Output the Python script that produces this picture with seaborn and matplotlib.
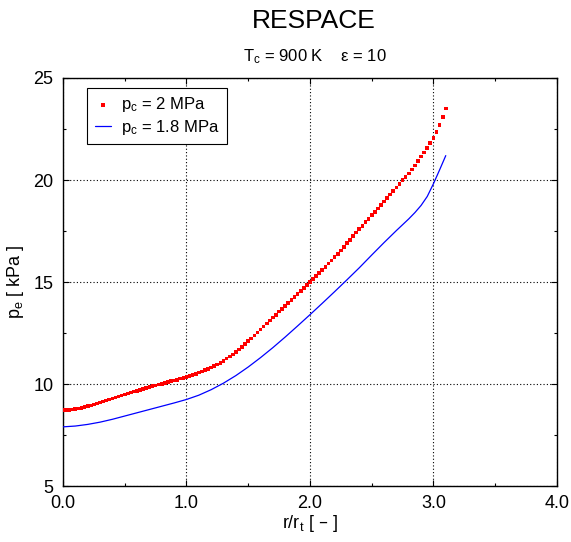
import matplotlib
matplotlib.use("Agg")
import matplotlib.pyplot as plt
import seaborn as sns
import numpy as np
import pandas as pd
from matplotlib.ticker import MultipleLocator, FormatStrFormatter

# ---- data ----
red_x = [0.000, 0.025, 0.050, 0.075, 0.100, 0.125, 0.150, 0.175, 0.200, 0.225,
         0.250, 0.275, 0.300, 0.325, 0.350, 0.375, 0.400, 0.425, 0.450, 0.475,
         0.500, 0.525, 0.550, 0.575, 0.600, 0.625, 0.650, 0.675, 0.700, 0.725,
         0.750, 0.775, 0.800, 0.825, 0.850, 0.875, 0.900, 0.925, 0.950, 0.975,
         1.000, 1.025, 1.050, 1.075, 1.100, 1.125, 1.150, 1.175, 1.200, 1.225,
         1.250, 1.275, 1.300, 1.325, 1.350, 1.375, 1.400, 1.425, 1.450, 1.475,
         1.500, 1.525, 1.550, 1.575, 1.600, 1.625, 1.650, 1.675, 1.700, 1.725,
         1.750, 1.775, 1.800, 1.825, 1.850, 1.875, 1.900, 1.925, 1.950, 1.975,
         2.000, 2.025, 2.050, 2.075, 2.100, 2.125, 2.150, 2.175, 2.200, 2.225,
         2.250, 2.275, 2.300, 2.325, 2.350, 2.375, 2.400, 2.425, 2.450, 2.475,
         2.500, 2.525, 2.550, 2.575, 2.600, 2.625, 2.650, 2.675, 2.700, 2.725,
         2.750, 2.775, 2.800, 2.825, 2.850, 2.875, 2.900, 2.925, 2.950, 2.975,
         3.000, 3.025, 3.050, 3.075, 3.100]
red_y = [8.74, 8.74, 8.75, 8.77, 8.79, 8.82, 8.85, 8.89, 8.93, 8.97,
         9.02, 9.06, 9.11, 9.16, 9.21, 9.26, 9.31, 9.36, 9.41, 9.46,
         9.51, 9.56, 9.60, 9.65, 9.69, 9.73, 9.78, 9.82, 9.86, 9.91,
         9.95, 9.99, 10.03, 10.07, 10.11, 10.15, 10.19, 10.23, 10.28, 10.32,
         10.37, 10.42, 10.47, 10.52, 10.58, 10.63, 10.69, 10.75, 10.82, 10.89,
         10.97, 11.06, 11.16, 11.26, 11.36, 11.47, 11.59, 11.71, 11.84, 11.97,
         12.11, 12.25, 12.39, 12.54, 12.69, 12.83, 12.98, 13.12, 13.27, 13.41,
         13.56, 13.70, 13.85, 13.99, 14.14, 14.28, 14.42, 14.57, 14.71, 14.86,
         15.00, 15.15, 15.30, 15.46, 15.61, 15.76, 15.91, 16.07, 16.22, 16.39,
         16.56, 16.74, 16.91, 17.08, 17.25, 17.43, 17.60, 17.77, 17.94, 18.11,
         18.28, 18.44, 18.61, 18.78, 18.95, 19.12, 19.30, 19.47, 19.64, 19.81,
         19.99, 20.16, 20.33, 20.52, 20.72, 20.93, 21.15, 21.36, 21.58, 21.81,
         22.05, 22.35, 22.70, 23.08, 23.50]

blue_x = [0.0, 0.1, 0.2, 0.3, 0.4, 0.5, 0.6, 0.7, 0.8, 0.9,
          1.0, 1.1, 1.2, 1.3, 1.4, 1.5, 1.6, 1.7, 1.8, 1.9,
          2.0, 2.1, 2.2, 2.3, 2.4, 2.5, 2.6, 2.7, 2.8, 2.85,
          2.9, 2.95, 3.0, 3.05, 3.1]
blue_y = [7.92, 7.96, 8.04, 8.15, 8.29, 8.45, 8.61, 8.77, 8.93, 9.09,
          9.26, 9.47, 9.74, 10.06, 10.43, 10.85, 11.31, 11.80, 12.32, 12.86,
          13.41, 13.97, 14.54, 15.12, 15.71, 16.33, 16.94, 17.53, 18.10, 18.41,
          18.76, 19.20, 19.82, 20.50, 21.20]

x_ticks = [0.0, 1.0, 2.0, 3.0, 4.0]
y_ticks = [5, 10, 15, 20, 25]

title = "RESPACE"
subtitle = r"T$_\mathregular{c}$ = 900 K    ε = 10"
label_red = r"p$_\mathregular{c}$ = 2 MPa"
label_blue = r"p$_\mathregular{c}$ = 1.8 MPa"

red_df = pd.DataFrame({"x": red_x, "y": red_y})
blue_df = pd.DataFrame({"x": blue_x, "y": blue_y})

sns.set_theme(style="white")
plt.rcParams["font.family"] = ["Liberation Sans", "DejaVu Sans"]
plt.rcParams["mathtext.default"] = "regular"
for key in ["text.color", "axes.labelcolor", "xtick.color", "ytick.color"]:
    plt.rcParams[key] = "black"

fig = plt.figure(figsize=(5.71, 5.42), dpi=100)
ax = fig.add_axes([0.1103, 0.1024, 0.865, 0.7537])

sns.scatterplot(data=red_df, x="x", y="y", ax=ax, marker="s", s=7,
                color="#ff0000", edgecolor="none", linewidth=0,
                label=label_red, zorder=3)
sns.lineplot(data=blue_df, x="x", y="y", ax=ax, color="#0000ff",
             linewidth=0.9, label=label_blue, zorder=3)

ax.set_xlim(0, 4)
ax.set_ylim(5, 25)
ax.set_xticks(x_ticks)
ax.set_yticks(y_ticks)
ax.xaxis.set_major_formatter(FormatStrFormatter("%.1f"))
ax.xaxis.set_minor_locator(MultipleLocator(0.5))
ax.yaxis.set_minor_locator(MultipleLocator(2.5))
ax.tick_params(which="both", direction="in", top=True, right=True,
               bottom=True, left=True, color="black", width=0.8)
ax.tick_params(which="major", length=4, labelsize=13)
ax.tick_params(axis="x", which="major", pad=6)
ax.tick_params(axis="y", which="major", pad=7)
ax.tick_params(which="minor", length=2.5)
for sp in ax.spines.values():
    sp.set_color("black")
    sp.set_linewidth(1.0)

ax.grid(True, which="major", color="black", linestyle=(0, (1, 2)),
        linewidth=0.8)

ax.set_xlabel(r"r/r$_\mathregular{t}$ [ – ]", fontsize=13, labelpad=1)
ax.set_ylabel(r"p$_\mathregular{e}$ [ kPa ]", fontsize=13, labelpad=5)

fig.text(0.55, 0.962, title, ha="center", va="center", fontsize=19)
fig.text(0.551, 0.895, subtitle, ha="center", va="center", fontsize=12)

leg = ax.legend(loc="upper left", bbox_to_anchor=(0.049, 0.976),
                borderaxespad=0, fancybox=False, framealpha=1,
                edgecolor="black", fontsize=12, handlelength=1.0,
                handletextpad=0.6, markerscale=1.0, borderpad=0.45,
                labelspacing=0.2)
leg.get_frame().set_linewidth(0.8)

fig.savefig("out.png", dpi=100)
